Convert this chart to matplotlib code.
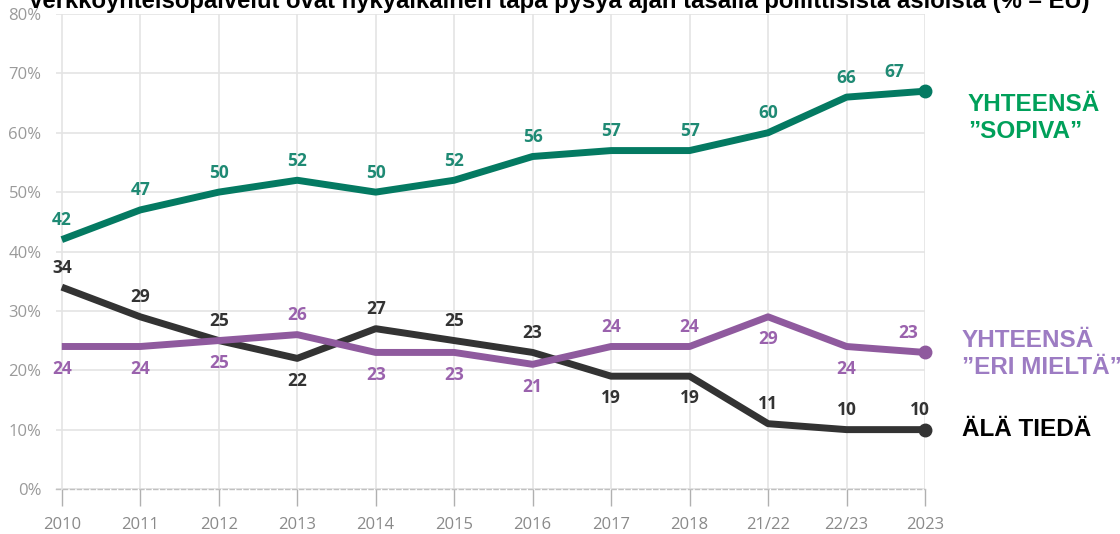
import matplotlib

matplotlib.use("Agg")
import matplotlib.pyplot as plt

years = ["2010", "2011", "2012", "2013", "2014", "2015", "2016", "2017", "2018", "21/22", "22/23", "2023"]
agree = [42, 47, 50, 52, 50, 52, 56, 57, 57, 60, 66, 67]
disagree = [24, 24, 25, 26, 23, 23, 21, 24, 24, 29, 24, 23]
dont_know = [34, 29, 25, 22, 27, 25, 23, 19, 19, 11, 10, 10]

# label side per point: +1 above the line, -1 below
agree_side = [1] * 12
disagree_side = [-1, -1, -1, 1, -1, -1, -1, 1, 1, -1, -1, 1]
dont_know_side = [1, 1, 1, -1, 1, 1, 1, -1, -1, 1, 1, 1]

GREEN = "#047a62"
GREEN_TXT = "#1f8a74"
PURPLE = "#8f5a9e"
PURPLE_TXT = "#9a62ad"
DARK = "#333333"
GRID = "#e4e4e4"
TICK = "#9a9a9a"

plt.rcParams["font.family"] = ["Open Sans", "DejaVu Sans"]

fig = plt.figure(figsize=(11.2, 5.34), dpi=100)
ax = fig.add_axes([55.5 / 1120, 45 / 534, (925 - 55.5) / 1120, 475 / 534])

x = list(range(len(years)))
ax.set_xlim(-0.08, len(years) - 1)
ax.set_ylim(0, 80)

# last-point labels are nudged left so they clear the end markers
end_shift = {GREEN: -22, PURPLE: -12, DARK: -4}

for series, color, txt, sides in [
    (agree, GREEN, GREEN_TXT, agree_side),
    (dont_know, DARK, DARK, dont_know_side),
    (disagree, PURPLE, PURPLE_TXT, disagree_side),
]:
    ax.plot(x, series, color=color, linewidth=5, solid_capstyle="butt",
            solid_joinstyle="round", clip_on=False, zorder=3)
    ax.plot(x[-1], series[-1], "o", color=color, markersize=9, clip_on=False, zorder=4)
    for xi, v, s in zip(x, series, sides):
        off = 14 if s > 0 else -16
        dx = end_shift[color] if xi == x[-1] else 0
        ax.annotate(str(v), (xi, v), xytext=(dx, off), textcoords="offset points",
                    ha="center", va="center", fontsize=12.5, fontweight="bold",
                    color=txt, zorder=5)

ax.set_yticks(range(0, 81, 10))
ax.set_yticklabels([f"{t}%" for t in range(0, 81, 10)])
ax.set_xticks(x)
ax.set_xticklabels(years)
ax.tick_params(axis="y", length=0, pad=10, labelsize=12, labelcolor=TICK)
ax.tick_params(axis="x", length=12, width=1, color="#b0b0b0", pad=8,
               labelsize=12, labelcolor="#8a8a8a")

ax.grid(True, color=GRID, linewidth=1.2, zorder=0)
for side in ["top", "right", "left"]:
    ax.spines[side].set_visible(False)
ax.spines["bottom"].set_color("#c0c0c0")
ax.spines["bottom"].set_linestyle((0, (3, 2)))
ax.spines["bottom"].set_linewidth(1)

fig.text(559 / 1120, (534 - 8) / 534,
         "Verkkoyhteisöpalvelut ovat nykyaikainen tapa pysyä ajan tasalla poliittisista asioista (% – EU)",
         ha="center", va="baseline", fontsize=17.2, fontweight="bold",
         family=["Liberation Sans", "DejaVu Sans"], color="black")

side_font = dict(fontsize=17.5, fontweight="bold", family=["Liberation Sans", "DejaVu Sans"],
                 ha="left", va="center", linespacing=1.25)
fig.text(968 / 1120, 1 - 118 / 534, "YHTEENSÄ\n”SOPIVA”", color="#00a05a", **side_font)
fig.text(962 / 1120, 1 - 354 / 534, "YHTEENSÄ\n”ERI MIELTÄ”", color="#9d7cc3", **side_font)
fig.text(962 / 1120, 1 - 430 / 534, "ÄLÄ TIEDÄ", color="black", **side_font)

fig.savefig("out.png", dpi=100)
